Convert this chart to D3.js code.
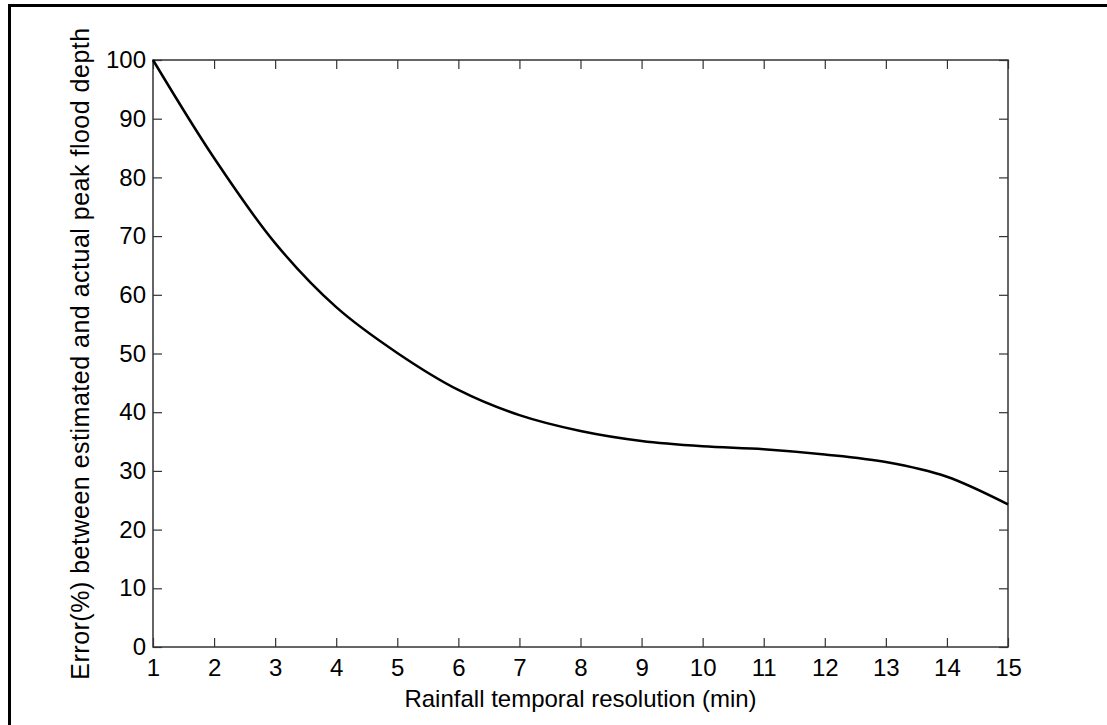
<!DOCTYPE html>
<html>
<head>
<meta charset="utf-8">
<script src="https://cdn.jsdelivr.net/npm/d3@7"></script>
<style>
  body { margin: 0; background: #fff; }
  svg { display: block; font-family: "Liberation Sans", Arial, sans-serif; }
</style>
</head>
<body>
<div id="chart"></div>
<script>
// values
let resolution = [1, 2, 3, 4, 5, 6, 7, 8, 9, 10, 11, 12, 13, 14, 15];
let errorPct = [100, 83.3, 68.8, 57.9, 50.1, 43.8, 39.5, 36.8, 35.1, 34.2, 33.7, 32.8, 31.5, 29.0, 24.3];
let xTicks = d3.range(1, 16);
let yTicks = d3.range(0, 101, 10);

let W = 1107, H = 725;
let margin = {top: 60, right: 99, bottom: 78, left: 153},
    width = W - margin.left - margin.right,
    height = H - margin.top - margin.bottom;

let svg = d3.select("div#chart")
    .append("svg")
    .attr("width", W)
    .attr("height", H);

// outer frame (only top and left edges are in view)
svg.append("path")
    .attr("d", "M9.5," + H + "V5.5H" + W)
    .attr("fill", "none")
    .attr("stroke", "#000")
    .attr("stroke-width", 3);

let x = d3.scaleLinear().domain([1, 15]).range([0, width]);
let y = d3.scaleLinear().domain([0, 100]).range([height, 0]);

let g = svg.append("g")
    .attr("transform", "translate(" + margin.left + "," + margin.top + ")");

let tickLen = 9;

// bottom/left axes with labels, ticks pointing inward
let xAxis = d3.axisBottom(x).tickValues(xTicks).tickSize(-tickLen).tickPadding(12);
let yAxis = d3.axisLeft(y).tickValues(yTicks).tickSize(-tickLen).tickPadding(7);

g.append("g")
    .attr("transform", "translate(0," + height + ")")
    .call(xAxis);
g.append("g")
    .call(yAxis);

// mirrored ticks on top and right
g.append("g")
    .call(d3.axisTop(x).tickValues(xTicks).tickSize(-tickLen).tickFormat(""));
g.append("g")
    .attr("transform", "translate(" + width + ",0)")
    .call(d3.axisRight(y).tickValues(yTicks).tickSize(-tickLen).tickFormat(""));

g.selectAll(".domain").remove();
g.selectAll(".tick line").attr("stroke", "#333").attr("stroke-width", 1.2);
g.selectAll(".tick text")
    .attr("fill", "#000")
    .style("font-size", "24px");

g.append("rect")
    .attr("width", width)
    .attr("height", height)
    .attr("fill", "none")
    .attr("stroke", "#333")
    .attr("stroke-width", 1.5);

let line = d3.line()
    .x(function(d, i) { return x(resolution[i]); })
    .y(function(d) { return y(d); })
    .curve(d3.curveCatmullRom);

g.append("path")
    .datum(errorPct)
    .attr("fill", "none")
    .attr("stroke", "#000")
    .attr("stroke-width", 2.5)
    .attr("stroke-linejoin", "round")
    .attr("d", line);

g.append("text")
    .attr("x", width / 2)
    .attr("y", height + 60)
    .attr("text-anchor", "middle")
    .style("font-size", "24px")
    .text("Rainfall temporal resolution (min)");

g.append("text")
    .attr("transform", "translate(" + (-64) + "," + (height / 2) + ") rotate(-90)")
    .attr("text-anchor", "middle")
    .style("font-size", "25px")
    .style("letter-spacing", "0.5px")
    .text("Error(%) between estimated and actual peak flood depth");
</script>
</body>
</html>
